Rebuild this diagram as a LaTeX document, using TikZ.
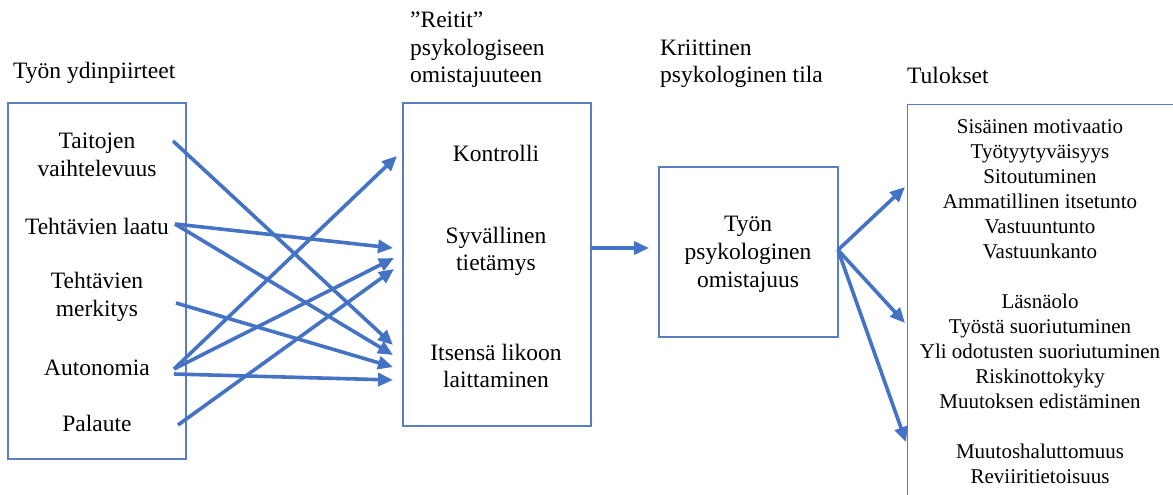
\documentclass[tikz,border=0pt]{standalone}
\usepackage{fontspec}
\setmainfont{Liberation Serif}
\usetikzlibrary{arrows.meta}
\definecolor{accent}{HTML}{4472C4}
\definecolor{frame}{HTML}{5A7EC2}

\begin{document}
\begin{tikzpicture}[x=1pt,y=-1pt,
  panel/.style={draw=frame, line width=1.2pt, inner sep=0pt},
  label/.style={align=center, font=\fontsize{23.5}{28}\selectfont, inner sep=0pt},
  tightlabel/.style={label, font=\fontsize{23.5}{27}\selectfont},
  outlist/.style={align=center, font=\fontsize{21}{25}\selectfont, inner sep=0pt},
  head/.style={align=left, font=\fontsize{23.5}{27.5}\selectfont, inner sep=0pt, anchor=west},
  link/.style={draw=accent, line width=3.6pt, -{Triangle[length=15pt,width=13pt]}}]
\useasboundingbox (0,0) rectangle (1173,495);

% panels
\node[panel, minimum width=178pt, minimum height=356pt] (core) at (97,281) {};
\node[panel, minimum width=188pt, minimum height=323pt] (routes) at (497,264.5) {};
\node[panel, minimum width=179pt, minimum height=170pt] (own) at (748.5,252) {};
\begin{scope}
  \clip (0,0) rectangle (1173,495);
  \node[panel, minimum width=300pt, minimum height=420pt, anchor=north west] (res) at (907,104) {};
\end{scope}

% headings
\node[head] (hCore) at (13,73) {Työn ydinpiirteet};
\node[head] (hRoutes) at (410,50) {”Reitit”\\psykologiseen\\omistajuuteen};
\node[head] (hState) at (660,64) {Kriittinen\\psykologinen tila};
\node[head] (hRes) at (907,75) {Tulokset};

% core job characteristics
\node[label] (tai) at (97,155) {Taitojen\\vaihtelevuus};
\node[label] (laa) at (97,226) {Tehtävien laatu};
\node[label] (mer) at (97,297) {Tehtävien\\merkitys};
\node[label] (aut) at (97,368) {Autonomia};
\node[label] (pal) at (97,423) {Palaute};

% routes to ownership
\node[tightlabel] (kon) at (496,153) {Kontrolli};
\node[tightlabel] (syv) at (496,251.5) {Syvällinen\\tietämys};
\node[tightlabel] (its) at (496,366) {Itsensä likoon\\laittaminen};

% critical state
\node[label] (tpo) at (748,254) {Työn\\psykologinen\\omistajuus};

% outcomes
\node[outlist] (out) at (1040,302) {Sisäinen motivaatio\\Työtyytyväisyys\\Sitoutuminen\\Ammatillinen itsetunto\\Vastuuntunto\\Vastuunkanto\\[25pt]
Läsnäolo\\Työstä suoriutuminen\\Yli odotusten suoriutuminen\\Riskinottokyky\\Muutoksen edistäminen\\[25pt]
Muutoshaluttomuus\\Reviiritietoisuus};

% arrow end points
\coordinate (oTai) at (173,141);
\coordinate (oLaa) at (175,224);
\coordinate (oMer) at (176,303);
\coordinate (oAut) at (174,369);
\coordinate (oAut2) at (174,374);
\coordinate (oPal) at (178,425);
\coordinate (iKon) at (397,156);
\coordinate (iSy1) at (393,248);
\coordinate (iSy2) at (394,258);
\coordinate (iSy3) at (394,269);
\coordinate (iIt1) at (393,345);
\coordinate (iIt2) at (393,355);
\coordinate (iIt3) at (393,367);
\coordinate (iIt4) at (393,380);
\coordinate (rOut) at (591,248);
\coordinate (sIn) at (649,248);
\coordinate (sOut) at (838,250);
\coordinate (rIn1) at (905,187);
\coordinate (rIn2) at (905,323);
\coordinate (rIn3) at (906,442);

% connectors
\draw[link] (oTai) -- (iIt1);
\draw[link] (oLaa) -- (iSy1);
\draw[link] (oLaa) -- (iIt2);
\draw[link] (oMer) -- (iIt3);
\draw[link] (oAut) -- (iKon);
\draw[link] (oAut) -- (iSy2);
\draw[link] (oAut2) -- (iIt4);
\draw[link] (oPal) -- (iSy3);
\draw[link] (rOut) -- (sIn);
\draw[link] (sOut) -- (rIn1);
\draw[link] (sOut) -- (rIn2);
\draw[link] (sOut) -- (rIn3);
\end{tikzpicture}
\end{document}
